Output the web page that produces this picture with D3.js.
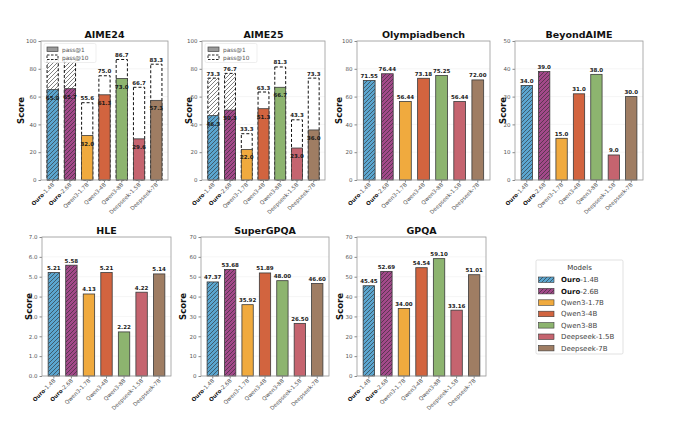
<!DOCTYPE html>
<html><head><meta charset="utf-8">
<script src="https://cdn.jsdelivr.net/npm/d3@7"></script>
<style>body{margin:0;background:#fff}svg{font-family:"DejaVu Sans",sans-serif}</style>
</head><body><svg id="c" width="680" height="425"></svg>
<script>
const models = ["Ouro-1.4B","Ouro-2.6B","Qwen3-1.7B","Qwen3-4B","Qwen3-8B","Deepseek-1.5B","Deepseek-7B"];
const colors = ["#5ba6d0","#a3498a","#f0aa3e","#d2643f","#8db46f","#c5646f","#9f7d63"];
const hatched = [true,true,false,false,false,false,false];

const aime24Pass1 = [65.0,65.7,32.0,61.3,73.0,29.6,57.3];
const aime24Pass10 = [86.7,86.7,55.6,75.0,86.7,66.7,83.3];
const aime25Pass1 = [46.3,50.3,22.0,51.3,66.7,23.0,36.0];
const aime25Pass10 = [73.3,76.7,33.3,63.3,81.3,43.3,73.3];
const olympiad = [71.55,76.44,56.44,73.18,75.25,56.44,72.00];
const beyondAime = [34.0,39.0,15.0,31.0,38.0,9.0,30.0];
const hle = [5.21,5.58,4.13,5.21,2.22,4.22,5.14];
const superGpqa = [47.37,53.68,35.92,51.89,48.00,26.50,46.60];
const gpqa = [45.45,52.69,34.00,54.54,59.10,33.16,51.01];

const ticks100 = [0,20,40,60,80,100];
const ticks50 = [0,10,20,30,40,50];
const ticks7 = [0,1,2,3,4,5,6,7];
const ticks70 = [0,10,20,30,40,50,60,70];

const panels = [
  {title:"AIME24", v:aime24Pass1, p10:aime24Pass10, ticks:ticks100, dec:1, x0:41,x1:168,y0:41,y1:180, lx:21},
  {title:"AIME25", v:aime25Pass1, p10:aime25Pass10, ticks:ticks100, dec:1, x0:202,x1:325,y0:41,y1:180, lx:189},
  {title:"Olympiadbench", v:olympiad, ticks:ticks100, dec:2, x0:357,x1:490,y0:41,y1:180, lx:339},
  {title:"BeyondAIME", v:beyondAime, ticks:ticks50, dec:1, x0:515,x1:643,y0:41,y1:180, lx:503},
  {title:"HLE", v:hle, ticks:ticks7, dec:2, x0:42,x1:171,y0:237,y1:376, lx:29},
  {title:"SuperGPQA", v:superGpqa, ticks:ticks70, dec:2, x0:201,x1:329,y0:237,y1:376, lx:183},
  {title:"GPQA", v:gpqa, ticks:ticks70, dec:2, x0:357,x1:486,y0:237,y1:376, lx:340}
];

const svg = d3.select("#c");
const defs = svg.append("defs");
function hatch(id, fill){
  const p = defs.append("pattern").attr("id",id).attr("patternUnits","userSpaceOnUse")
    .attr("width",4).attr("height",4);
  p.append("rect").attr("width",4).attr("height",4).attr("fill",fill);
  p.append("path").attr("d","M-1,1 l2,-2 M0,4 l4,-4 M3,5 l2,-2").attr("stroke","#2a2a2a").attr("stroke-width",0.6);
}
colors.forEach((c,i)=>{ if(hatched[i]) hatch("h"+i,c); });
hatch("hw","#ffffff");
const fillFor = i => hatched[i] ? "url(#h"+i+")" : colors[i];

panels.forEach(P=>{
  const g = svg.append("g");
  const x = d3.scaleBand().domain(models).range([P.x0,P.x1]).paddingInner(0.35).paddingOuter(0.35);
  const ymax = P.ticks[P.ticks.length-1];
  const y = d3.scaleLinear().domain([0,ymax]).range([P.y1,P.y0]);
  g.selectAll(".gr").data(P.ticks).join("line").attr("x1",P.x0).attr("x2",P.x1)
    .attr("y1",d=>y(d)).attr("y2",d=>y(d)).attr("stroke","#ececec").attr("stroke-width",0.5);
  const ya = g.append("g").attr("transform",`translate(${P.x0},0)`)
    .call(d3.axisLeft(y).tickValues(P.ticks).tickSize(2.5).tickPadding(2));
  ya.select(".domain").remove();
  ya.selectAll("line").attr("stroke","#888");
  ya.selectAll("text").attr("font-size",5.5).attr("fill","#555").attr("font-family","DejaVu Sans");
  // legend box geometry (pass@k panels)
  const lgX = P.x0+3, lgY = P.y0+2.5, lgW = 52, lgH = 19;
  if(P.p10){
    g.selectAll(".p10").data(models).join("rect")
      .attr("x",d=>x(d)).attr("width",x.bandwidth())
      .attr("y",(d,i)=>y(P.p10[i])).attr("height",(d,i)=>y(0)-y(P.p10[i]))
      .attr("fill",(d,i)=>hatched[i]?"url(#hw)":"#fff")
      .attr("stroke","#111").attr("stroke-width",1).attr("stroke-dasharray","3,2");
  }
  g.selectAll(".bar").data(models).join("rect")
    .attr("x",d=>x(d)).attr("width",x.bandwidth())
    .attr("y",(d,i)=>y(P.v[i])).attr("height",(d,i)=>y(0)-y(P.v[i]))
    .attr("fill",(d,i)=>fillFor(i)).attr("stroke","#3a3a3a").attr("stroke-width",0.8);
  if(P.p10){
    // pass@10 labels hidden behind the legend in the reference are not drawn
    const visible = models.filter((d,i)=>{
      const ly = y(P.p10[i])-2.5, lx = x(d)+x.bandwidth()/2;
      return !(ly > lgY && ly-6 < lgY+lgH && lx-8 < lgX+lgW);
    });
    g.selectAll(".l10").data(visible).join("text")
      .attr("x",d=>x(d)+x.bandwidth()/2).attr("y",d=>y(P.p10[models.indexOf(d)])-2.5)
      .attr("text-anchor","middle").attr("font-size",5.5).attr("font-weight","bold").attr("fill","#1a1a1a")
      .text(d=>P.p10[models.indexOf(d)].toFixed(1));
    g.selectAll(".l1").data(models).join("text")
      .attr("x",d=>x(d)+x.bandwidth()/2).attr("y",(d,i)=>y(P.v[i])+10)
      .attr("text-anchor","middle").attr("font-size",5.5).attr("font-weight","bold").attr("fill","#1a1a1a")
      .text((d,i)=>P.v[i].toFixed(1));
  } else {
    g.selectAll(".lv").data(models).join("text")
      .attr("x",d=>x(d)+x.bandwidth()/2).attr("y",(d,i)=>y(P.v[i])-2.5)
      .attr("text-anchor","middle").attr("font-size",5.5).attr("font-weight","bold").attr("fill","#1a1a1a")
      .text((d,i)=>P.v[i].toFixed(P.dec));
  }
  g.append("rect").attr("x",P.x0).attr("y",P.y0).attr("width",P.x1-P.x0).attr("height",P.y1-P.y0)
    .attr("fill","none").attr("stroke","#999").attr("stroke-width",0.8);
  const xa = g.append("g").attr("transform",`translate(0,${P.y1})`)
    .call(d3.axisBottom(x).tickSize(2.5).tickFormat(""));
  xa.select(".domain").remove();
  xa.selectAll("line").attr("stroke","#888");
  models.forEach(m=>{
    const cx = x(m)+x.bandwidth()/2;
    const t = g.append("text").attr("transform",`translate(${cx+2},${P.y1+5}) rotate(-45)`)
      .attr("text-anchor","end").attr("font-size",5.5).attr("fill","#555");
    if(m.startsWith("Ouro")){
      t.append("tspan").attr("font-weight","bold").attr("fill","#111").text("Ouro");
      t.append("tspan").text(m.slice(4));
    } else t.text(m);
  });
  g.append("text").attr("x",(P.x0+P.x1)/2).attr("y",P.y0-3).attr("text-anchor","middle")
    .attr("font-size",9.5).attr("font-weight","bold").attr("fill","#111").text(P.title);
  g.append("text").attr("transform",`translate(${P.lx},${(P.y0+P.y1)/2}) rotate(-90)`)
    .attr("text-anchor","middle").attr("dy","0.35em").attr("font-size",8.5).attr("font-weight","bold")
    .attr("fill","#111").text("Score");
  if(P.p10){
    const lg = g.append("g").attr("transform",`translate(${lgX},${lgY})`);
    lg.append("rect").attr("width",lgW).attr("height",lgH).attr("fill","#fff").attr("fill-opacity",0.85)
      .attr("stroke","#ddd").attr("stroke-width",0.5).attr("rx",1.5);
    lg.append("rect").attr("x",3).attr("y",3.5).attr("width",11).attr("height",4.5)
      .attr("fill","#9a9a9a").attr("stroke","#444").attr("stroke-width",0.7);
    lg.append("rect").attr("x",3).attr("y",11.5).attr("width",11).attr("height",4.5)
      .attr("fill","#fff").attr("stroke","#111").attr("stroke-width",0.9).attr("stroke-dasharray","2.5,1.5");
    lg.append("text").attr("x",18).attr("y",8).attr("font-size",5.8).attr("fill","#555").text("pass@1");
    lg.append("text").attr("x",18).attr("y",16).attr("font-size",5.8).attr("fill","#555").text("pass@10");
  }
});

const L = svg.append("g").attr("transform","translate(536,260)");
L.append("rect").attr("width",87).attr("height",94).attr("fill","#fff").attr("stroke","#ccc").attr("stroke-width",0.6).attr("rx",1.5);
L.append("text").attr("x",43.5).attr("y",9.5).attr("text-anchor","middle").attr("font-size",7).attr("fill","#333").text("Models");
models.forEach((m,i)=>{
  const yy = 17 + i*11.4;
  L.append("rect").attr("x",2.5).attr("y",yy).attr("width",15.5).attr("height",5.5)
    .attr("fill",fillFor(i)).attr("stroke","#3a3a3a").attr("stroke-width",0.6);
  const t = L.append("text").attr("x",25).attr("y",yy+5.2).attr("font-size",7).attr("fill","#444");
  if(m.startsWith("Ouro")){
    t.append("tspan").attr("font-weight","bold").attr("fill","#111").text("Ouro");
    t.append("tspan").text(m.slice(4));
  } else t.text(m);
});
</script></body></html>
